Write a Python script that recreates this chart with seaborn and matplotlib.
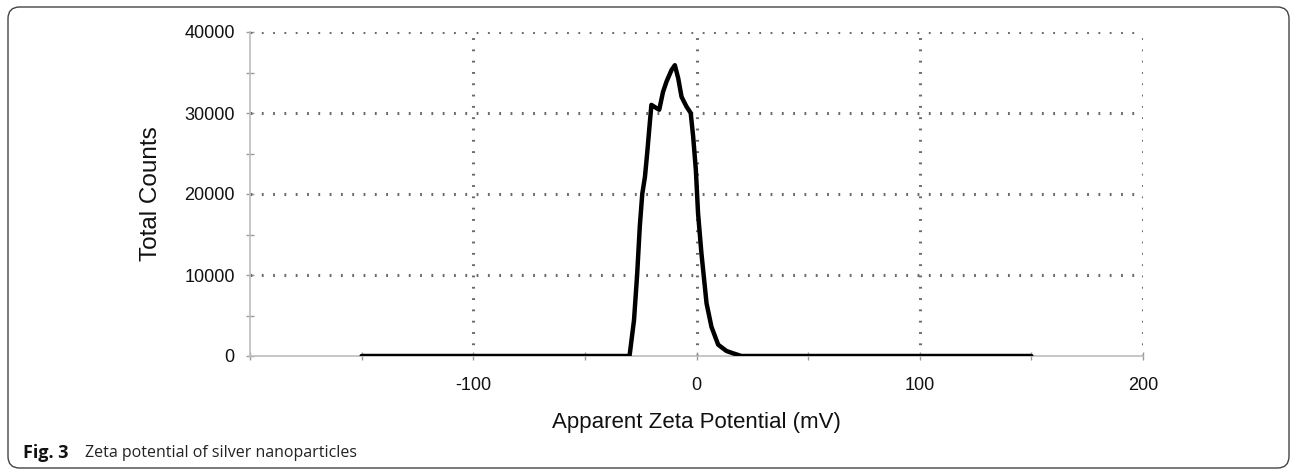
import matplotlib
matplotlib.use("Agg")
import matplotlib.pyplot as plt
import seaborn as sns
import pandas as pd
from matplotlib.patches import FancyBboxPatch
from matplotlib.ticker import MultipleLocator

# ---- data ----
zeta_mv = [-150, -30, -28, -26.6, -25.4, -24.3, -23.1, -22.1, -21.2, -20.2, -17.9,
           -16.7, -15.0, -13.4, -11.2, -9.7, -8.2, -6.7, -4.5, -2.6, -1.5, -0.3,
           0.7, 2.2, 4.5, 6.7, 9.7, 13.4, 16.4, 20.1, 150]
total_counts = [0, 0, 4400, 10000, 16000, 20000, 22100, 25000, 27900, 31000, 30600,
                30400, 32600, 33900, 35300, 35900, 34300, 32000, 30800, 30000, 27100, 23000,
                17600, 12700, 6500, 3600, 1400, 620, 330, 0, 0]
x_ticks = [-100, 0, 100, 200]
y_ticks = [0, 10000, 20000, 30000, 40000]
x_label = "Apparent Zeta Potential (mV)"
y_label = "Total Counts"
caption_bold = "Fig. 3"
caption_text = "Zeta potential of silver nanoparticles"

df = pd.DataFrame({"zeta": zeta_mv, "counts": total_counts})

sns.set_theme(style="white")
plt.rcParams["font.family"] = ["Liberation Sans", "DejaVu Sans"]
plt.rcParams["axes.unicode_minus"] = False

W, H = 1292, 475
fig = plt.figure(figsize=(W / 100, H / 100), dpi=100)
ax = fig.add_axes([250 / W, 1 - 356 / H, (1143 - 250) / W, (356 - 32) / H])

sns.lineplot(data=df, x="zeta", y="counts", ax=ax, color="black", linewidth=3.2,
             sort=False, estimator=None, zorder=5)

ax.set_xlim(-200, 200)
ax.set_ylim(0, 40000)
ax.set_xticks(x_ticks)
ax.set_yticks(y_ticks)
ax.xaxis.set_minor_locator(MultipleLocator(50))
ax.yaxis.set_minor_locator(MultipleLocator(5000))

for s in ["top", "right"]:
    ax.spines[s].set_visible(False)
for s in ["left", "bottom"]:
    ax.spines[s].set_color("#bdbdbd")
    ax.spines[s].set_linewidth(1.2)

ax.tick_params(axis="both", which="both", direction="inout", color="#9a9a9a",
               length=6, width=1.0, labelsize=13, labelcolor="#111111")
ax.tick_params(axis="x", which="major", pad=12)
ax.tick_params(axis="y", which="major", pad=8)
ax.tick_params(axis="x", which="both", bottom=True)
ax.tick_params(axis="y", which="both", left=True)

# dotted grid
dots = (0, (0.6, 3.1))
for xv in x_ticks:
    ax.axvline(xv, color="#6a6a6a", linestyle=dots, linewidth=2.2, zorder=1)
for yv in y_ticks[1:]:
    ax.axhline(yv, color="#6a6a6a", linestyle=dots, linewidth=2.2, zorder=1)

ax.set_xlabel(x_label, fontsize=16, color="#111111", labelpad=13)
ax.set_ylabel(y_label, fontsize=17.5, color="#111111", labelpad=16)

# figure border (rounded)
border = FancyBboxPatch((8 / W, 7 / H), (1289 - 8) / W, (468 - 7) / H,
                        boxstyle="round,pad=0,rounding_size=0.009",
                        transform=fig.transFigure, fill=False,
                        edgecolor="#444444", linewidth=1.0, mutation_aspect=W / H)
fig.patches.append(border)

fig.text(23 / W, 1 - 453 / H, caption_bold, fontsize=13, fontweight="bold",
         family=["Open Sans", "DejaVu Sans"], va="center", ha="left", color="#111111")
fig.text(85 / W, 1 - 453 / H, caption_text, fontsize=11.5,
         family=["Open Sans", "DejaVu Sans"], va="center", ha="left", color="#222222")

fig.savefig("out.png", dpi=100)
